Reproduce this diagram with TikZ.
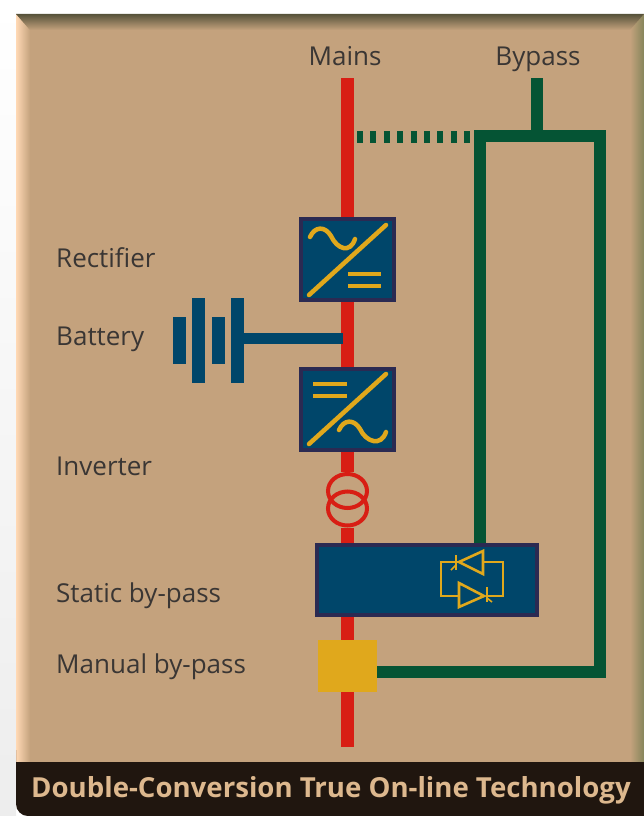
\documentclass[tikz,border=0pt]{standalone}
\usepackage{fontspec}
\setmainfont{Open Sans}
\usetikzlibrary{arrows.meta,positioning,fit,shapes.geometric}
\definecolor{panelTan}{HTML}{C4A27D}
\definecolor{boxBlue}{HTML}{00466A}
\definecolor{boxEdge}{HTML}{2B2A52}
\definecolor{mainsRed}{HTML}{D81E14}
\definecolor{bypassGreen}{HTML}{055434}
\definecolor{signYellow}{HTML}{E0A81C}
\definecolor{labelGrey}{HTML}{3A3634}
\definecolor{bandBlack}{HTML}{20160F}
\definecolor{titleTan}{HTML}{DDB88E}
\definecolor{topOlive}{HTML}{56523A}
\definecolor{sideOlive}{HTML}{85855A}
\definecolor{sidePeach}{HTML}{FFD9B5}
\begin{document}
\begin{tikzpicture}[x=1pt,y=-1pt,
  convbox/.style={draw=boxEdge,fill=boxBlue,line width=4pt,minimum width=93pt,minimum height=81pt,inner sep=0pt},
  wide/.style={convbox,minimum width=220pt,minimum height=70pt},
  manualbox/.style={fill=signYellow,minimum width=59pt,minimum height=52pt,inner sep=0pt},
  plate/.style={fill=boxBlue,minimum width=13pt,inner sep=0pt},
  coil/.style={ellipse,draw=mainsRed,line width=4pt,minimum width=39pt,minimum height=34pt,inner sep=0pt},
  lab/.style={anchor=base west,text=labelGrey,font=\fontsize{26}{30}\selectfont,inner sep=0pt},
  toplab/.style={lab,anchor=base},
  red/.style={draw=mainsRed,line width=13pt},
  grn/.style={draw=bypassGreen,line width=12pt},
  sign/.style={draw=signYellow,line width=4.5pt,line cap=round},
  thin sign/.style={draw=signYellow,line width=1.6pt}]
\useasboundingbox (0,0) rectangle (644,816);
\shade[top color=white,bottom color=black!7] (0,0) rectangle (16,816);
\fill[panelTan] (16,14) rectangle (644,770);
\shade[left color=sidePeach,right color=panelTan] (16,14) -- (30,30) -- (30,764) -- (16,764) -- cycle;
\shade[left color=panelTan,right color=sideOlive] (644,14) -- (630,30) -- (630,764) -- (644,764) -- cycle;
\shade[top color=topOlive,bottom color=panelTan] (16,14) -- (644,14) -- (630,30) -- (30,30) -- cycle;
\fill[bandBlack] (16,762) -- (644,762) -- (644,816) [rounded corners=12pt] -- (16,816) -- (16,762) [sharp corners] -- cycle;

\coordinate (mainsTop) at (347.5,78);
\coordinate (mainsEnd) at (347.5,747);
\coordinate (bypassTop) at (537,78);
\coordinate (teeL) at (480,136);
\coordinate (teeM) at (537,136);
\coordinate (teeR) at (600,136);
\coordinate (teeB) at (600,672);
\coordinate (dotStart) at (357,136.5);
\coordinate (dotEnd) at (471,136.5);
\coordinate (battEnd) at (343,338.5);

\node[convbox] (rectifier) at (347.5,259.5) {};
\node[convbox] (inverter) at (347.5,409.5) {};
\node[wide] (static) at (427,580) {};
\node[manualbox] (manual) at (347.5,666) {};
\node[coil] (coilA) at (347.5,491) {};
\node[coil] (coilB) at (347.5,508.5) {};
\node[plate,minimum height=47pt] (plateA) at (179.5,340.5) {};
\node[plate,minimum height=85pt,right=6pt of plateA] (plateB) {};
\node[plate,minimum height=47pt,right=6pt of plateB] (plateC) {};
\node[plate,minimum height=85pt,right=6pt of plateC] (plateD) {};

\draw[red] (mainsTop) -- (rectifier);
\draw[red] (rectifier) -- (inverter);
\draw[red] (inverter) -- (coilA);
\draw[red] (coilB) -- (static.north -| coilB);
\draw[red] (static.south -| manual) -- (manual);
\draw[red] (manual) -- (mainsEnd);
\draw[boxBlue,line width=11pt] (plateD.east |- battEnd) -- (battEnd);
\draw[grn] (bypassTop) -- (teeM);
\draw[grn] (static.north -| teeL) -- (teeL) -- (teeR) -- (teeB) -- (teeB -| manual.east);
\draw[grn,dash pattern=on 6pt off 7.4pt] (dotStart) -- (dotEnd);

\draw[sign] (309,295) -- (386,225);
\draw[sign] (310,237) .. controls (315,226) and (325,226) .. (331,236) .. controls (337,249) and (350,254) .. (355,239);
\draw[sign,line cap=butt] (348,274) -- (381,274);
\draw[sign,line cap=butt] (348,286) -- (381,286);
\draw[sign] (309,444) -- (386,374);
\draw[sign] (339,430) .. controls (344,419) and (354,419) .. (360,429) .. controls (366,442) and (381,447) .. (386,432);
\draw[sign,line cap=butt] (313,384) -- (347,384);
\draw[sign,line cap=butt] (313,396) -- (347,396);

\draw[thin sign] (459,562) -- (441,562) -- (441,596) -- (459,596);
\draw[thin sign] (483,562) -- (503,562) -- (503,596) -- (487,596);
\draw[signYellow,line width=2.6pt] (459,562) -- (483,551) -- (483,574) -- cycle;
\draw[signYellow,line width=2.6pt] (484,596) -- (459,583) -- (459,607) -- cycle;
\draw[signYellow,line width=2pt] (456,555) -- (456,570) (487,587) -- (487,602);
\draw[thin sign] (456,565) -- (451,570) (487,598) -- (492,602);

\node[toplab] (mains) at (345,66) {Mains};
\node[toplab] (bypass) at (538,66) {Bypass};
\node[lab] (rect lab) at (56,267) {Rectifier};
\node[lab] (batt lab) at (56,345) {Battery};
\node[lab] (inv lab) at (56,475) {Inverter};
\node[lab] (stat lab) at (56,602) {Static by-pass};
\node[lab] (man lab) at (56,673) {Manual by-pass};
\node[text=titleTan,anchor=base,font=\fontsize{27.6}{32}\selectfont\bfseries,inner sep=0pt] (title) at (331,797) {Double-Conversion True On-line Technology};
\end{tikzpicture}
\end{document}
